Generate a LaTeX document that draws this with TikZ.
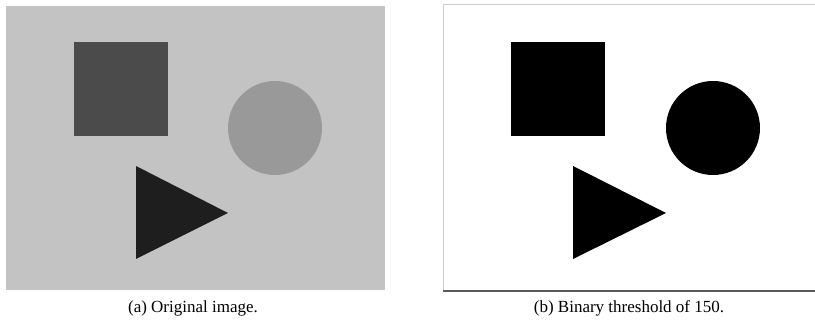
\documentclass[tikz,border=0pt]{standalone}
\usepackage{fontspec}
\setmainfont{Liberation Serif}
\definecolor{bggray}{RGB}{195,195,195}
\definecolor{sqgray}{RGB}{75,75,75}
\definecolor{circgray}{RGB}{153,153,153}
\definecolor{trigray}{RGB}{30,30,30}
\definecolor{edgelight}{RGB}{205,205,205}
\definecolor{edgedark}{RGB}{90,90,90}
\begin{document}
\begin{tikzpicture}[x=1pt,y=-1pt,
  caption/.style={font=\fontsize{17}{20}\selectfont, anchor=base, inner sep=0pt}]
\useasboundingbox (0,0) rectangle (815,323);
% left panel
\fill[bggray] (6,6) rectangle (385,290);
\fill[sqgray] (74,42) rectangle (168,136);
\fill[circgray] (275,128) circle[radius=47];
\fill[trigray] (136,166) -- (228,213) -- (136,259) -- cycle;
% right panel
\fill[white] (443,5) rectangle (815,291);
\draw[edgelight, line width=1pt] (443,291) -- (443,5) -- (815,5);
\draw[edgedark, line width=1.2pt] (443,291) -- (815,291);
\fill[black] (511,42) rectangle (605,136);
\fill[black] (713,128) circle[radius=47];
\fill[black] (573,166) -- (666,213) -- (573,259) -- cycle;
% captions
\node[caption] (capa) at (193,313) {(a) Original image.};
\node[caption] (capb) at (629,313) {(b) Binary threshold of 150.};
\end{tikzpicture}
\end{document}
